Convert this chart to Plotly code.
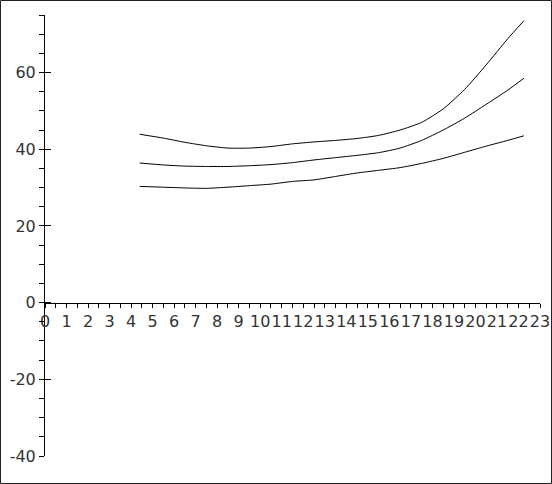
import plotly.graph_objects as go

age = [4.4, 5.5, 6.5, 7.5, 8.5, 9.5, 10.5, 11.5, 12.5, 13.5, 14.5, 15.5,
       16.5, 17.5, 18.5, 19.5, 20.5, 21.5, 22.25]
upper = [43.9, 42.9, 41.8, 40.9, 40.3, 40.3, 40.7, 41.4, 41.9, 42.3, 42.8, 43.6,
         45.0, 47.0, 50.5, 55.6, 62.0, 68.8, 73.5]
middle = [36.4, 35.9, 35.6, 35.5, 35.5, 35.7, 36.0, 36.5, 37.2, 37.8, 38.4, 39.1,
          40.3, 42.3, 45.0, 48.1, 51.7, 55.4, 58.5]
lower = [30.3, 30.1, 29.9, 29.8, 30.1, 30.5, 30.9, 31.6, 32.0, 32.9, 33.8, 34.5,
         35.2, 36.3, 37.6, 39.2, 40.8, 42.3, 43.5]

x_ticks = list(range(0, 24))
y_ticks = [-40, -20, 0, 20, 40, 60]
x_range = [0, 23]
y_range = [-40, 75]

W, H = 552, 484
ML, MR, MT, MB = 45, 12, 15, 28
PW, PH = W - ML - MR, H - MT - MB

fig = go.Figure()
for series in (upper, middle, lower):
    fig.add_trace(go.Scatter(x=age, y=series, mode="lines",
                             line=dict(color="black", width=1, shape="spline", smoothing=0.6),
                             showlegend=False, hoverinfo="skip"))
# helper trace so the overlaid axis (crossing major ticks) is drawn
fig.add_trace(go.Scatter(x=[None], y=[None], yaxis="y2", showlegend=False, hoverinfo="skip"))

font = dict(family="DejaVu Sans, Verdana, sans-serif", size=16, color="#333")

fig.update_layout(
    width=W, height=H,
    margin=dict(l=ML, r=MR, t=MT, b=MB, pad=0),
    paper_bgcolor="white", plot_bgcolor="white",
    xaxis=dict(range=x_range, tickvals=x_ticks, ticktext=[str(v) for v in x_ticks],
               tickangle=0, automargin=False,
               ticks="outside", ticklen=4, tickcolor="black", tickwidth=1,
               minor=dict(dtick=0.5, ticks="outside", ticklen=4, tickcolor="black"),
               showline=True, linecolor="black", linewidth=1,
               showgrid=False, zeroline=False,
               anchor="free", position=(0 - y_range[0]) / (y_range[1] - y_range[0]),
               tickfont=font, fixedrange=True),
    yaxis=dict(range=y_range, tickvals=y_ticks, ticktext=[str(v) for v in y_ticks],
               automargin=False,
               ticks="outside", ticklen=5, tickcolor="black", tickwidth=1,
               minor=dict(dtick=5, ticks="outside", ticklen=5, tickcolor="black"),
               showline=True, linecolor="black", linewidth=1,
               showgrid=False, zeroline=False, tickfont=font, fixedrange=True),
    yaxis2=dict(range=y_range, overlaying="y", side="left", anchor="x",
                tickvals=y_ticks, ticks="inside", ticklen=6, tickcolor="black",
                showticklabels=False, showline=False, showgrid=False, zeroline=False,
                automargin=False, fixedrange=True),
    shapes=[dict(type="rect", xref="paper", yref="paper",
                 x0=(0.5 - ML) / PW, x1=(W - 0.5 - ML) / PW,
                 y0=(H - MB - (H - 0.5)) / PH, y1=(H - MB - 0.5) / PH,
                 line=dict(color="#222", width=1), fillcolor="rgba(0,0,0,0)")],
)

fig.write_html("out.html", config={"displayModeBar": False},
               post_script="document.body.style.margin='0';document.body.style.padding='0';document.body.style.overflow='hidden';")
